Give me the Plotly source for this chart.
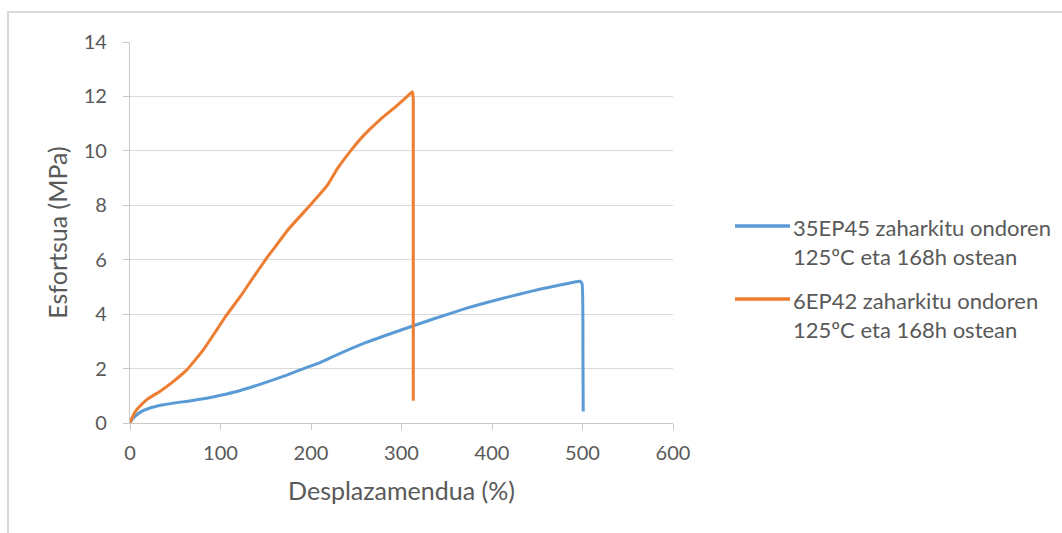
import plotly.graph_objects as go

# 35EP45 zaharkitu ondoren 125ºC eta 168h ostean
blue_x = [0, 2, 5.5, 11, 22, 37, 63, 81, 100, 118, 137, 155, 174, 192, 210, 225,
          261, 298, 335, 372, 408, 431, 455, 475, 490, 497, 499.5, 500.5, 500.8]
blue_y = [0, 0.12, 0.24, 0.39, 0.55, 0.67, 0.80, 0.89, 1.02, 1.16, 1.35, 1.55, 1.77, 2.0, 2.22, 2.45,
          2.96, 3.40, 3.82, 4.22, 4.55, 4.74, 4.93, 5.07, 5.17, 5.21, 5.12, 2.5, 0.42]

# 6EP42 zaharkitu ondoren 125ºC eta 168h ostean
orange_x = [0, 3, 7.4, 18.5, 33, 48, 63, 81, 96, 107, 122, 137, 151, 159, 175,
            199, 218, 229, 244, 258, 277, 295, 310, 312, 313, 313]
orange_y = [0, 0.25, 0.49, 0.86, 1.16, 1.53, 1.96, 2.69, 3.43, 3.98, 4.65, 5.39, 6.06, 6.41, 7.12,
            8.0, 8.73, 9.34, 10.01, 10.56, 11.17, 11.66, 12.11, 12.17, 11.9, 0.82]

series_names = ["35EP45 zaharkitu ondoren<br>125ºC eta 168h ostean",
                "6EP42 zaharkitu ondoren<br>125ºC eta 168h ostean"]
series_colors = ["#5b9bd5", "#ed7d31"]
x_ticks = [0, 100, 200, 300, 400, 500, 600]
y_ticks = [0, 2, 4, 6, 8, 10, 12, 14]

FONT = "Lato"
TXT = "#595959"
GRID = "#d9d9d9"
AX = "#c8c8c8"

fig = go.Figure()
fig.add_trace(go.Scatter(x=blue_x, y=blue_y, mode="lines", name=series_names[0],
                         line=dict(color=series_colors[0], width=3, shape="spline", smoothing=0.4)))
fig.add_trace(go.Scatter(x=orange_x, y=orange_y, mode="lines", name=series_names[1],
                         line=dict(color=series_colors[1], width=3, shape="spline", smoothing=0.4)))

# legend drawn as line swatches + text, in paper coordinates
PW, PH, L0, T0 = 543, 381, 130, 42
def px(x):
    return (x - L0) / PW
def py(y):
    return (T0 + PH - y) / PH

shapes = [dict(type="rect", xref="paper", yref="paper",
               x0=px(8), x1=px(1080), y0=py(545), y1=py(12),
               line=dict(color=GRID, width=2), fillcolor="rgba(0,0,0,0)", layer="below")]
annotations = []
legend_rows = [226, 299]
for name, col, yy in zip(series_names, series_colors, legend_rows):
    shapes.append(dict(type="line", xref="paper", yref="paper",
                       x0=px(735), x1=px(790), y0=py(yy), y1=py(yy),
                       line=dict(color=col, width=3.5)))
    annotations.append(dict(xref="paper", yref="paper", x=px(791), y=py(yy - 14),
                            xanchor="left", yanchor="top", align="left", showarrow=False,
                            text=name, font=dict(family=FONT, size=22, color=TXT)))

fig.update_layout(
    width=1062, height=533,
    margin=dict(l=130, r=389, t=42, b=110),
    paper_bgcolor="white", plot_bgcolor="white",
    font=dict(family=FONT, color=TXT, size=20),
    showlegend=False,
    shapes=shapes,
    annotations=annotations,
)
fig.update_xaxes(range=[0, 600], tickvals=x_ticks, ticktext=[str(v) for v in x_ticks],
                 showgrid=False, zeroline=False, showline=True, linecolor=AX, linewidth=1.3,
                 ticks="outside", ticklen=6, tickcolor=AX, tickwidth=1.3,
                 tickfont=dict(family=FONT, size=20, color=TXT), ticklabelstandoff=6,
                 title=dict(text="Desplazamendua (%)", font=dict(family=FONT, size=25, color=TXT), standoff=19),
                 automargin=False, fixedrange=True)
fig.update_yaxes(range=[0, 14], tickvals=y_ticks, ticktext=[str(v) for v in y_ticks],
                 showgrid=True, gridcolor=GRID, gridwidth=1.3, zeroline=False,
                 showline=True, linecolor=AX, linewidth=1.3,
                 ticks="outside", ticklen=6, tickcolor=AX, tickwidth=1.3,
                 tickfont=dict(family=FONT, size=20, color=TXT), ticklabelstandoff=12,
                 title=dict(text="Esfortsua (MPa)", font=dict(family=FONT, size=25, color=TXT), standoff=8),
                 automargin=False, fixedrange=True)

fig.write_html("out.html", config={"displayModeBar": False},
               post_script="document.body.style.margin='0';document.body.style.padding='0';")
